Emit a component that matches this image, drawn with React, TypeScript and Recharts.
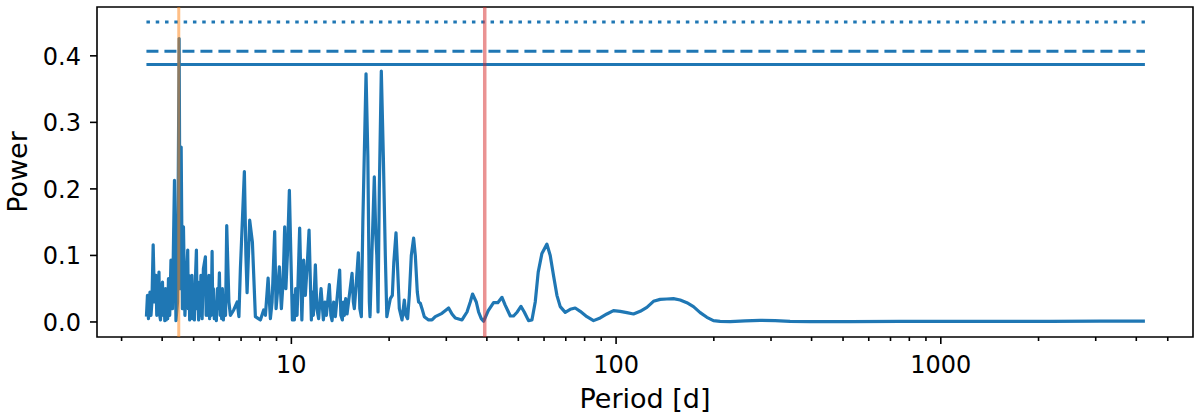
import { LineChart, Line, XAxis, YAxis, ReferenceLine, ReferenceArea } from 'recharts';

// periodogram
const periods = [
  3.578, 3.604, 3.630, 3.669, 3.695, 3.72, 3.753, 3.788, 3.808, 3.828,
  3.85, 3.870, 3.89, 3.911, 3.93, 3.953, 3.98, 4.009, 4.03, 4.052,
  4.075, 4.095, 4.117, 4.139, 4.16, 4.183, 4.22, 4.258, 4.303, 4.365,
  4.411, 4.46, 4.512, 4.544, 4.577, 4.619, 4.652, 4.701, 4.75, 4.795,
  4.815, 4.836, 4.862, 4.888, 4.915, 4.940, 4.965, 4.993, 5.028, 5.06,
  5.100, 5.125, 5.154, 5.18, 5.209, 5.235, 5.265, 5.31, 5.359, 5.436,
  5.465, 5.494, 5.533, 5.573, 5.60, 5.632, 5.665, 5.700, 5.725, 5.753,
  5.79, 5.835, 5.875, 5.918, 5.96, 6.003, 6.035, 6.067, 6.10, 6.132,
  6.175, 6.220, 6.27, 6.323, 6.421, 6.490, 6.645, 6.807, 6.894, 6.966,
  7.166, 7.244, 7.305, 7.441, 7.585, 7.748, 7.913, 8.027, 8.216, 8.318,
  8.479, 8.618, 8.722, 8.884, 8.973, 9.08, 9.185, 9.316, 9.43, 9.537,
  9.618, 9.721, 9.859, 9.965, 10.071, 10.14, 10.215, 10.31, 10.411, 10.5,
  10.606, 10.772, 10.909, 11.042, 11.200, 11.336, 11.522, 11.6, 11.687, 11.855,
  11.981, 12.134, 12.24, 12.343, 12.546, 12.7, 12.815, 13.092, 13.232, 13.345,
  13.5, 13.660, 13.855, 14.084, 14.204, 14.355, 14.46, 14.560, 14.7, 14.841,
  15.086, 15.377, 15.519, 15.630, 15.852, 16.078, 16.249, 16.425, 16.600, 16.980,
  17.199, 17.383, 17.467, 17.694, 18.007, 18.199, 18.328, 18.487, 18.657, 18.923,
  19.194, 19.469, 19.677, 19.888, 20.172, 20.460, 20.679, 21.001, 21.199, 21.500,
  21.915, 22.276, 22.514, 22.803, 23.080, 23.407, 23.794, 24.082, 24.424, 24.651,
  24.952, 25.253, 25.665, 26.458, 27.105, 27.746, 29.095, 30.498, 31.236, 31.977,
  33.530, 34.741, 35.558, 36.14, 37.105, 37.717, 38.445, 39.080, 40.399, 41.944,
  43.218, 44.525, 45.583, 47.226, 48.339, 49.624, 50.933, 52.143, 53.750, 55.064,
  56.364, 57.568, 59.100, 61.235, 62.688, 64.165, 65.733, 67.298, 69.729, 72.245,
  74.833, 77.534, 81.302, 85.213, 89.339, 93.686, 98.176, 102.94, 107.96, 113.14,
  118.64, 124.40, 130.35, 136.70, 143.34, 150.20, 157.52, 165.17, 173.09, 181.55,
  190.37, 199.45, 209.13, 224.5, 249.7, 277.6, 308.7, 343.4, 395.9, 525.6,
  748.8, 1067, 1521, 2169, 3090, 4252,
];

const power = [
  0.008, 0.04, 0.005, 0.045, 0.01, 0.03, 0.116, 0.03, 0.06, 0.07,
  0.01, 0.05, 0.02, 0.075, 0.01, 0.003, 0.035, 0.06, 0.01, 0.045,
  0.002, 0.05, 0.003, 0.04, 0.005, 0.065, 0.01, 0.093, 0.02, 0.213,
  0.002, 0.03, 0.426, 0.05, 0.263, 0.02, 0.143, 0.01, 0.06, 0.108,
  0.02, 0.07, 0.003, 0.06, 0.02, 0.07, 0.005, 0.04, 0.003, 0.06,
  0.108, 0.02, 0.06, 0.003, 0.05, 0.01, 0.07, 0.005, 0.08, 0.098,
  0.01, 0.06, 0.01, 0.07, 0.005, 0.05, 0.01, 0.106, 0.02, 0.05,
  0.005, 0.03, 0.002, 0.05, 0.02, 0.074, 0.01, 0.04, 0.005, 0.05,
  0.003, 0.04, 0.01, 0.145, 0.03, 0.01, 0.018, 0.03, 0.008, 0.08,
  0.226, 0.1, 0.044, 0.153, 0.12, 0.008, 0.005, 0.003, 0.018, 0.01,
  0.066, 0.005, 0.03, 0.136, 0.02, 0.05, 0.083, 0.02, 0.06, 0.143,
  0.05, 0.1, 0.198, 0.1, 0.003, 0.04, 0.003, 0.05, 0.01, 0.07,
  0.141, 0.003, 0.093, 0.04, 0.089, 0.138, 0.003, 0.045, 0.01, 0.086,
  0.02, 0.005, 0.03, 0.05, 0.003, 0.03, 0.01, 0.056, 0.01, 0.002,
  0.03, 0.008, 0.04, 0.078, 0.01, 0.003, 0.03, 0.01, 0.035, 0.012,
  0.04, 0.073, 0.03, 0.02, 0.06, 0.104, 0.02, 0.008, 0.15, 0.373,
  0.25, 0.03, 0.008, 0.1, 0.218, 0.13, 0.1, 0.015, 0.2, 0.377,
  0.25, 0.1, 0.008, 0.02, 0.035, 0.04, 0.09, 0.134, 0.09, 0.02,
  0.003, 0.033, 0.01, 0.005, 0.04, 0.1, 0.126, 0.1, 0.045, 0.03,
  0.028, 0.02, 0.008, 0.003, 0.003, 0.008, 0.013, 0.021, 0.012, 0.006,
  0.003, 0.015, 0.03, 0.042, 0.03, 0.015, 0.005, 0.001, 0.017, 0.029,
  0.029, 0.037, 0.025, 0.009, 0.009, 0.015, 0.0235, 0.015, 0.002, 0.003,
  0.03, 0.075, 0.103, 0.117, 0.1, 0.07, 0.04, 0.023, 0.0145, 0.019,
  0.021, 0.016, 0.008, 0.002, 0.006, 0.012, 0.017, 0.016, 0.014, 0.012,
  0.016, 0.022, 0.031, 0.034, 0.0345, 0.035, 0.033, 0.029, 0.023, 0.014,
  0.007, 0.002, 0.001, 0.0005, 0.0015, 0.0025, 0.002, 0.001, 0.0005, 0.0005,
  0.0008, 0.0008, 0.001, 0.001, 0.0012, 0.0012,
];

const xTicks = [
  3, 4, 5, 6, 7, 8, 9, 10, 20, 30, 40, 50, 60, 70, 80, 90,
  100, 200, 300, 400, 500, 600, 700, 800, 900, 1000, 2000, 3000, 4000, 5000,
];
const majorTicks = [10, 100, 1000];
const yTicks = [0, 0.1, 0.2, 0.3, 0.4];

// false alarm levels (dotted, dashed, solid)
const falseAlarmLevels = [0.451, 0.407, 0.387];
const levelDashes = ['3.5 5.8', '12 6', undefined];

const orangePeriod = 4.5;
const redPeriod = 39.4;

const xDomain: [number, number] = [2.52, 5980];
const yDomain: [number, number] = [-0.0226, 0.4734];

const data = periods.map((p, i) => ({ period: p, power: power[i] }));

const FONT = 'DejaVu Sans, sans-serif';
const BLUE = '#1f77b4';

function XTick({ x, y, payload }: any) {
  const major = majorTicks.includes(payload.value);
  return (
    <g>
      <line x1={x} x2={x} y1={y} y2={y + (major ? 7 : 4)} stroke="#000" strokeWidth={1.6} />
      {major && (
        <text x={x} y={y + 36} textAnchor="middle" fontSize={24} fontFamily={FONT} fill="#000">
          {payload.value}
        </text>
      )}
    </g>
  );
}

function YTick({ x, y, payload }: any) {
  return (
    <g>
      <line x1={x - 7} x2={x} y1={y} y2={y} stroke="#000" strokeWidth={1.6} />
      <text x={x - 16} y={y + 8.7} textAnchor="end" fontSize={24} fontFamily={FONT} fill="#000">
        {payload.value.toFixed(1)}
      </text>
    </g>
  );
}

export default function App() {
  return (
    <div style={{ position: 'absolute', left: 0, top: 0, background: '#fff' }}>
      <LineChart width={1200} height={417} data={data} margin={{ top: 7, right: 7, bottom: 0, left: 0 }}>
        <XAxis
          dataKey="period"
          type="number"
          scale="log"
          domain={xDomain}
          allowDataOverflow
          ticks={xTicks}
          interval={0}
          tickSize={0}
          tickMargin={0}
          tickLine={false}
          axisLine={false}
          tick={<XTick />}
          height={80}
          label={({ viewBox }: any) => (
            <text
              x={viewBox.x + viewBox.width / 2}
              y={viewBox.y + 71}
              textAnchor="middle"
              fontSize={27}
              fontFamily={FONT}
              fill="#000"
            >
              Period [d]
            </text>
          )}
        />
        <YAxis
          type="number"
          domain={yDomain}
          allowDataOverflow
          ticks={yTicks}
          interval={0}
          tickSize={0}
          tickMargin={0}
          tickLine={false}
          axisLine={false}
          tick={<YTick />}
          width={97}
          label={({ viewBox }: any) => (
            <text
              transform={`translate(27, ${viewBox.y + viewBox.height / 2}) rotate(-90)`}
              textAnchor="middle"
              fontSize={27}
              fontFamily={FONT}
              fill="#000"
            >
              Power
            </text>
          )}
        />
        <Line
          dataKey="power"
          type="linear"
          stroke={BLUE}
          strokeWidth={3.2}
          strokeLinejoin="round"
          dot={false}
          activeDot={false}
          isAnimationActive={false}
        />
        {falseAlarmLevels.map((lvl, i) => (
          <ReferenceLine
            key={lvl}
            segment={[
              { x: periods[0], y: lvl },
              { x: periods[periods.length - 1], y: lvl },
            ]}
            stroke={BLUE}
            strokeWidth={3}
            strokeDasharray={levelDashes[i]}
          />
        ))}
        <ReferenceLine x={orangePeriod} stroke="#ff7f0e" strokeOpacity={0.5} strokeWidth={3} />
        <ReferenceLine x={redPeriod} stroke="#d62728" strokeOpacity={0.5} strokeWidth={3.5} />
        <ReferenceArea
          x1={xDomain[0]}
          x2={xDomain[1]}
          y1={yDomain[0]}
          y2={yDomain[1]}
          fill="none"
          stroke="#000"
          strokeWidth={1.6}
        />
      </LineChart>
    </div>
  );
}
